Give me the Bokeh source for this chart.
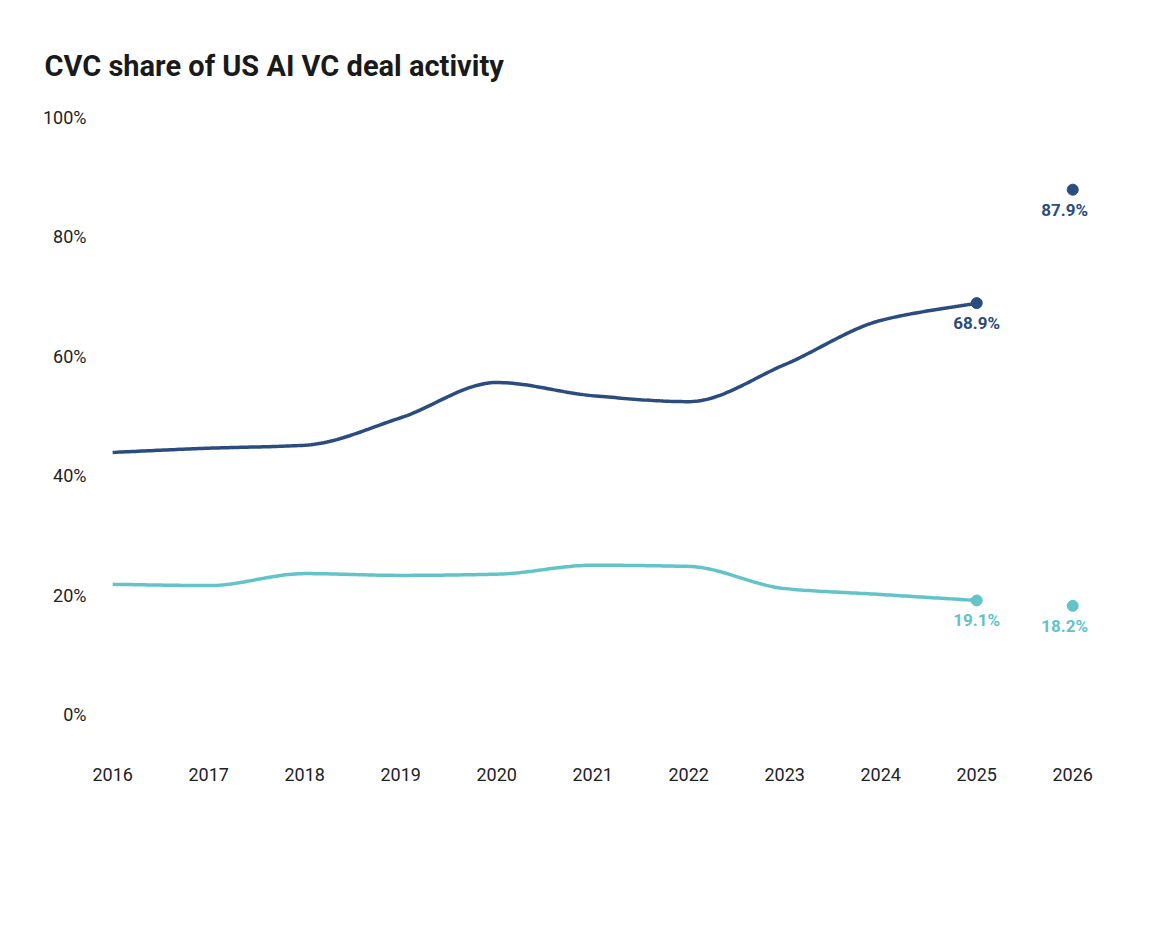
import numpy as np
from bokeh.plotting import figure
from bokeh.models import Range1d, Title, Legend, LegendItem, Label, FixedTicker
from bokeh.embed import file_html
from bokeh.resources import INLINE

years = [2016, 2017, 2018, 2019, 2020, 2021, 2022, 2023, 2024, 2025, 2026]
value_share = [43.9, 44.6, 45.1, 49.7, 55.6, 53.4, 52.4, 58.6, 66.0, 68.9, 87.9]
count_share = [21.8, 21.6, 23.6, 23.3, 23.5, 25.0, 24.8, 21.1, 20.1, 19.1, 18.2]
y_ticks = [0, 20, 40, 60, 80, 100]

DARK = "#2b4c7e"
TEAL = "#62c3c8"
FONT = "Roboto"

def smooth(xs, ys, n=30):
    xs = np.asarray(xs, float); ys = np.asarray(ys, float)
    h = np.diff(xs); d = np.diff(ys) / h
    m = np.zeros_like(ys)
    m[0], m[-1] = d[0], d[-1]
    for i in range(1, len(ys) - 1):
        m[i] = 0 if d[i-1] * d[i] <= 0 else 2 / (1/d[i-1] + 1/d[i])
    ox, oy = [], []
    for i in range(len(h)):
        t = np.linspace(0, 1, n, endpoint=False)
        h00 = 2*t**3 - 3*t**2 + 1; h10 = t**3 - 2*t**2 + t
        h01 = -2*t**3 + 3*t**2; h11 = t**3 - t**2
        ox.extend(xs[i] + t*h[i])
        oy.extend(h00*ys[i] + h10*h[i]*m[i] + h01*ys[i+1] + h11*h[i]*m[i+1])
    ox.append(xs[-1]); oy.append(ys[-1])
    return ox, oy

p = figure(frame_width=1010, frame_height=635, output_backend="svg", toolbar_location=None,
           x_range=Range1d(2015.79, 2026.31), y_range=Range1d(-3.85, 102.5),
           min_border_left=92, min_border_right=52, min_border_top=102, min_border_bottom=10)
p.outline_line_color = None
p.xgrid.visible = False; p.ygrid.visible = False

p.title = Title(text="CVC share of US AI VC deal activity", align="left", offset=-48,
                text_font=FONT, text_font_size="29px", text_font_style="bold",
                text_color="#1a1a1a", standoff=40)

for ax in (p.xaxis[0], p.yaxis[0]):
    ax.axis_line_color = None
    ax.major_tick_line_color = None
    ax.minor_tick_line_color = None
    ax.major_label_text_font = FONT
    ax.major_label_text_font_size = "18px"
    ax.major_label_text_color = "#222222"
p.xaxis.ticker = FixedTicker(ticks=years)
p.xaxis.major_label_standoff = 24
p.yaxis.ticker = FixedTicker(ticks=y_ticks)
p.yaxis.major_label_overrides = {t: f"{t}%" for t in y_ticks}
p.yaxis.major_label_standoff = 0

vx, vy = smooth(years[:10], value_share[:10])
cx, cy = smooth(years[:10], count_share[:10])
p.line(vx, vy, line_color=DARK, line_width=3.5)
p.line(cx, cy, line_color=TEAL, line_width=3.5)
for i in (9, 10):
    p.scatter([years[i]], [value_share[i]], size=11, color=DARK)
    p.scatter([years[i]], [count_share[i]], size=11, color=TEAL)
    p.add_layout(Label(x=years[i], y=value_share[i], text=f"{value_share[i]}%", text_align="center",
                       x_offset=-8 if i == 10 else 0, y_offset=-30, text_font=FONT,
                       text_font_size="17px", text_font_style="bold", text_color=DARK))
    p.add_layout(Label(x=years[i], y=count_share[i], text=f"{count_share[i]}%", text_align="center",
                       x_offset=-8 if i == 10 else 0, y_offset=-30, text_font=FONT,
                       text_font_size="17px", text_font_style="bold", text_color=TEAL))

nan = [np.nan]
r1 = p.rect(nan, nan, width=1, height=1, color=DARK)
r2 = p.rect(nan, nan, width=1, height=1, color=TEAL)
leg = Legend(items=[LegendItem(label="CVC share of AI deal value", renderers=[r1]),
                    LegendItem(label="CVC share of AI deal count", renderers=[r2])],
             orientation="horizontal", location="center", label_text_font=FONT,
             label_text_font_size="18px", label_text_color="#222222",
             glyph_width=22, glyph_height=22, spacing=12, label_standoff=6,
             border_line_color=None, background_fill_alpha=0, margin=20, padding=0)
p.add_layout(leg, "below")

src = Title(text="Source: PitchBook • Geography: US • As of June 3, 2026", align="right",
            text_font=FONT, text_font_size="18px", text_font_style="normal",
            text_color="#222222", offset=-10, standoff=20)
p.add_layout(src, "below")

open("out.html", "w").write(file_html(p, INLINE))
